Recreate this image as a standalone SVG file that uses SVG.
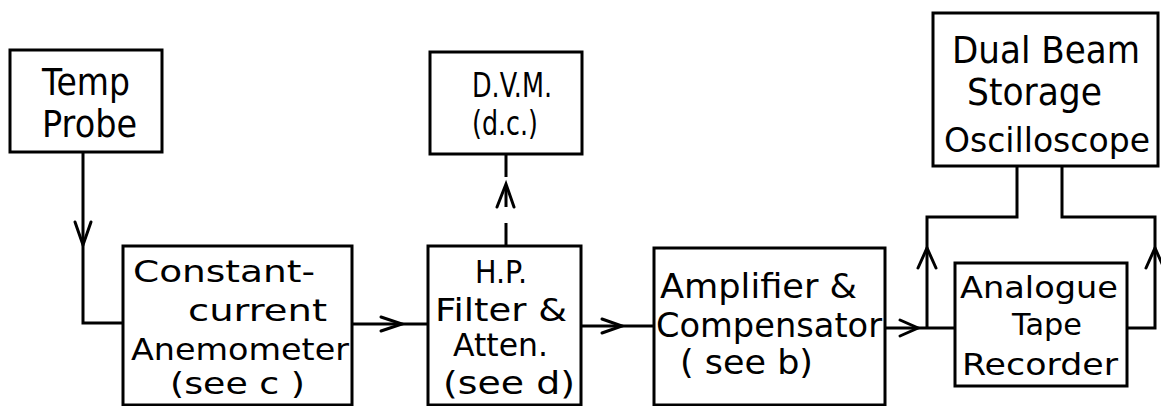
<svg xmlns="http://www.w3.org/2000/svg" width="1161" height="406" viewBox="0 0 1161 406">
<style>
.box{fill:#fff;stroke:#000;stroke-width:3}
.ln{fill:none;stroke:#000;stroke-width:3;stroke-linejoin:miter}
.ah{fill:none;stroke:#000;stroke-width:3;stroke-linecap:round;stroke-linejoin:miter}
text{font-family:"DejaVu Sans","Liberation Sans",sans-serif;fill:#000}
</style>
<rect width="1161" height="406" fill="#fff"/>
<g id="connectors">
<path class="ln" d="M83,152 V323 H123"/>
<path class="ah" d="M75,222 L83,245 L91,222"/>
<path class="ln" d="M352,324 H428"/>
<path class="ah" d="M381,317 L402,324 L381,331"/>
<path class="ln" d="M581,326 H655"/>
<path class="ah" d="M602,319 L622,326 L602,333"/>
<path class="ln" d="M885,328 H955"/>
<path class="ah" d="M900,320 L918,328 L900,336"/>
<path class="ln" d="M927,328 V217 H1017 V166"/>
<path class="ah" d="M918,268 L927,248 L936,268"/>
<path class="ln" d="M1127,328 H1155 V217 H1062 V166"/>
<path class="ah" d="M1146,268 L1155,248 L1164,268"/>
<path class="ln" d="M506,154 V177 M506,186 V207 M506,223 V246"/>
<path class="ah" d="M497,207 L506,184 L514,207"/>
</g>
<g id="temp-probe">
<rect class="box" x="10" y="50" width="152" height="102"/>
<text x="42" y="95" font-size="37" textLength="88" lengthAdjust="spacingAndGlyphs">Temp</text>
<text x="42" y="137" font-size="37" textLength="95" lengthAdjust="spacingAndGlyphs">Probe</text>
</g>
<g id="dvm">
<rect class="box" x="430" y="52" width="152" height="102"/>
<text x="472" y="97" font-size="34" textLength="80" lengthAdjust="spacingAndGlyphs">D.V.M.</text>
<text x="472" y="135" font-size="34" textLength="66" lengthAdjust="spacingAndGlyphs">(d.c.)</text>
</g>
<g id="oscilloscope">
<rect class="box" x="933" y="13" width="225" height="153"/>
<text x="952" y="63" font-size="38" textLength="188" lengthAdjust="spacingAndGlyphs">Dual Beam</text>
<text x="967" y="105" font-size="38" textLength="135" lengthAdjust="spacingAndGlyphs">Storage</text>
<text x="944" y="152" font-size="33" textLength="206" lengthAdjust="spacingAndGlyphs">Oscilloscope</text>
</g>
<g id="anemometer">
<rect class="box" x="123" y="246" width="229" height="159"/>
<text x="133" y="282" font-size="31" textLength="182" lengthAdjust="spacingAndGlyphs">Constant-</text>
<text x="188" y="321" font-size="31" textLength="139" lengthAdjust="spacingAndGlyphs">current</text>
<text x="131" y="360" font-size="31" textLength="218" lengthAdjust="spacingAndGlyphs">Anemometer</text>
<text x="170" y="394" font-size="31" textLength="135" lengthAdjust="spacingAndGlyphs">(see c )</text>
</g>
<g id="hp-filter">
<rect class="box" x="428" y="246" width="153" height="159"/>
<text x="475" y="283" font-size="32" textLength="52" lengthAdjust="spacingAndGlyphs">H.P.</text>
<text x="435" y="321" font-size="32" textLength="132" lengthAdjust="spacingAndGlyphs">Filter &amp;</text>
<text x="453" y="356" font-size="32" textLength="95" lengthAdjust="spacingAndGlyphs">Atten.</text>
<text x="443" y="394" font-size="32" textLength="132" lengthAdjust="spacingAndGlyphs">(see d)</text>
</g>
<g id="amplifier">
<rect class="box" x="654" y="248" width="231" height="157"/>
<text x="660" y="298" font-size="33" textLength="197" lengthAdjust="spacingAndGlyphs">Amplifier &amp;</text>
<text x="656" y="337" font-size="33" textLength="226" lengthAdjust="spacingAndGlyphs">Compensator</text>
<text x="680" y="374" font-size="33" textLength="133" lengthAdjust="spacingAndGlyphs">( see b)</text>
</g>
<g id="tape-recorder">
<rect class="box" x="955" y="263" width="172" height="123"/>
<text x="960" y="298" font-size="30" textLength="158" lengthAdjust="spacingAndGlyphs">Analogue</text>
<text x="1012" y="335" font-size="30" textLength="70" lengthAdjust="spacingAndGlyphs">Tape</text>
<text x="962" y="375" font-size="30" textLength="156" lengthAdjust="spacingAndGlyphs">Recorder</text>
</g>
</svg>
